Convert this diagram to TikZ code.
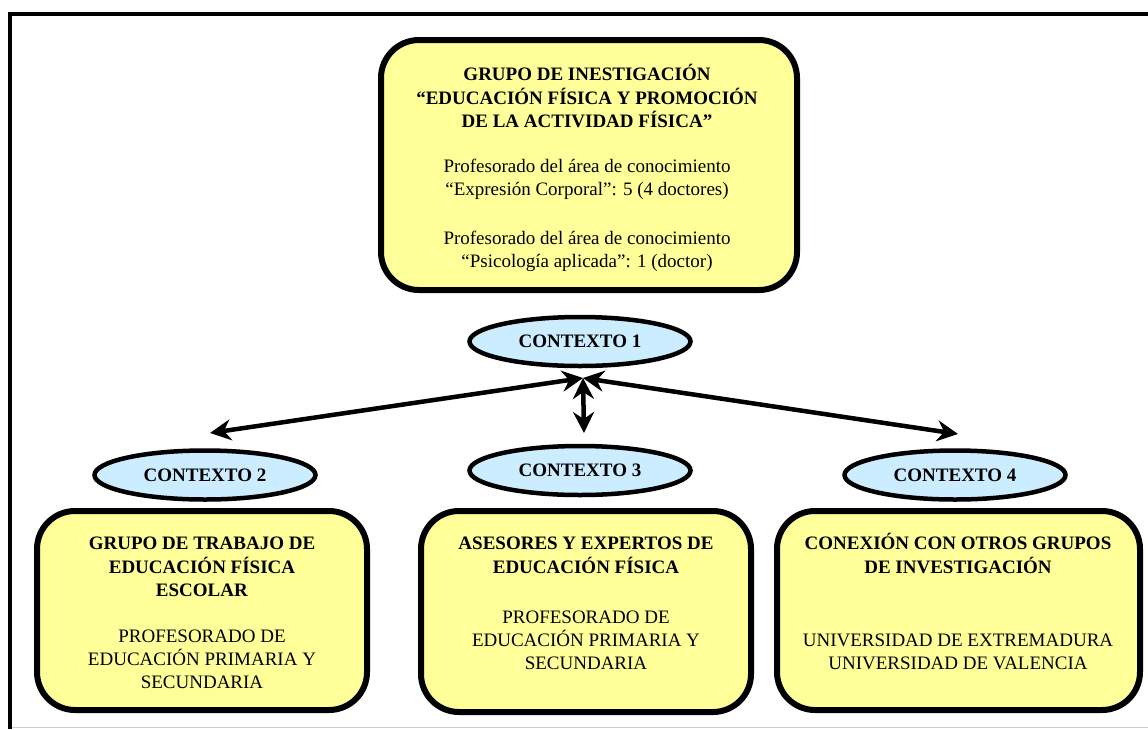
\documentclass[tikz,border=0pt]{standalone}
\usepackage{fontspec}
\setmainfont{Liberation Serif}
\usetikzlibrary{shapes.geometric,arrows.meta,shadows}
\definecolor{boxyellow}{RGB}{255,255,153}
\definecolor{ctxblue}{RGB}{204,236,255}
\begin{document}
\begin{tikzpicture}[x=1pt,y=-1pt,
  bigbox/.style={draw, line width=6pt, rounded corners=38pt, fill=boxyellow,
    drop shadow={shadow xshift=2pt, shadow yshift=-2pt, fill=black!45, opacity=1},
    inner sep=0pt},
  ctx/.style={ellipse, draw, line width=4.5pt, fill=ctxblue, inner sep=0pt,
    minimum width=221pt, minimum height=49pt, font=\bfseries},
  txt/.style={align=center, inner sep=0pt, anchor=north},
  link/.style={line width=4.5pt, {Stealth[length=21pt,width=21pt,inset=7pt]}-{Stealth[length=21pt,width=21pt,inset=7pt]}},
  frame/.style={line width=4pt}
]
\fontsize{19}{23}\selectfont
\useasboundingbox (0,0) rectangle (1148,729);
% frame
\coordinate (f1) at (8,14);
\coordinate (f2) at (1148,14);
\coordinate (f3) at (10,12);
\coordinate (f4) at (10,729);
\coordinate (g1) at (12,727);
\coordinate (g2) at (1148,727);
\draw[frame] (f1) -- (f2);
\draw[frame] (f3) -- (f4);
\draw[black!20, line width=1pt] (g1) -- (g2);

% boxes
\node[bigbox, minimum width=416pt, minimum height=250pt] (top) at (589,165) {};
\node[bigbox, minimum width=330pt, minimum height=199pt] (b2) at (202,610.5) {};
\node[bigbox, minimum width=330pt, minimum height=201pt] (b3) at (586,611.5) {};
\node[bigbox, minimum width=363pt, minimum height=199pt] (b4) at (958.5,610.5) {};

% texts
\node[txt] (ttop) at (587,64) {\strut\textbf{GRUPO DE INESTIGACIÓN}\\
  \textbf{“EDUCACIÓN FÍSICA Y PROMOCIÓN}\\
  \textbf{DE LA ACTIVIDAD FÍSICA”}\\[22pt]
  Profesorado del área de conocimiento\\
  “Expresión Corporal”: 5 (4 doctores)\\[26pt]
  Profesorado del área de conocimiento\\
  “Psicología aplicada”: 1 (doctor)};
\node[txt] (t2) at (202,533) {\strut\textbf{GRUPO DE TRABAJO DE}\\
  \textbf{EDUCACIÓN FÍSICA}\\
  \textbf{ESCOLAR}\\[23pt]
  PROFESORADO DE\\
  EDUCACIÓN PRIMARIA Y\\
  SECUNDARIA};
\node[txt] (t3) at (586,533) {\strut\textbf{ASESORES Y EXPERTOS DE}\\
  \textbf{EDUCACIÓN FÍSICA}\\[27pt]
  PROFESORADO DE\\
  EDUCACIÓN PRIMARIA Y\\
  SECUNDARIA};
\node[txt] (t4) at (958,533) {\strut\textbf{CONEXIÓN CON OTROS GRUPOS}\\
  \textbf{DE INVESTIGACIÓN}\\[50pt]
  UNIVERSIDAD DE EXTREMADURA\\
  UNIVERSIDAD DE VALENCIA};

% contexts
\node[ctx] (c1) at (580,341.5) {CONTEXTO 1};
\node[ctx] (c2) at (205,475) {CONTEXTO 2};
\node[ctx] (c3) at (580,470.5) {CONTEXTO 3};
\node[ctx] (c4) at (955,475) {CONTEXTO 4};

% connectors
\coordinate (hub) at (583,378);
\coordinate (e2) at (210,433);
\coordinate (e3) at (584,433);
\coordinate (e4) at (958,434);
\draw[link] (hub) -- (e2);
\draw[link] (hub) -- (e4);
\draw[link] (hub) -- (e3);
\end{tikzpicture}
\end{document}
